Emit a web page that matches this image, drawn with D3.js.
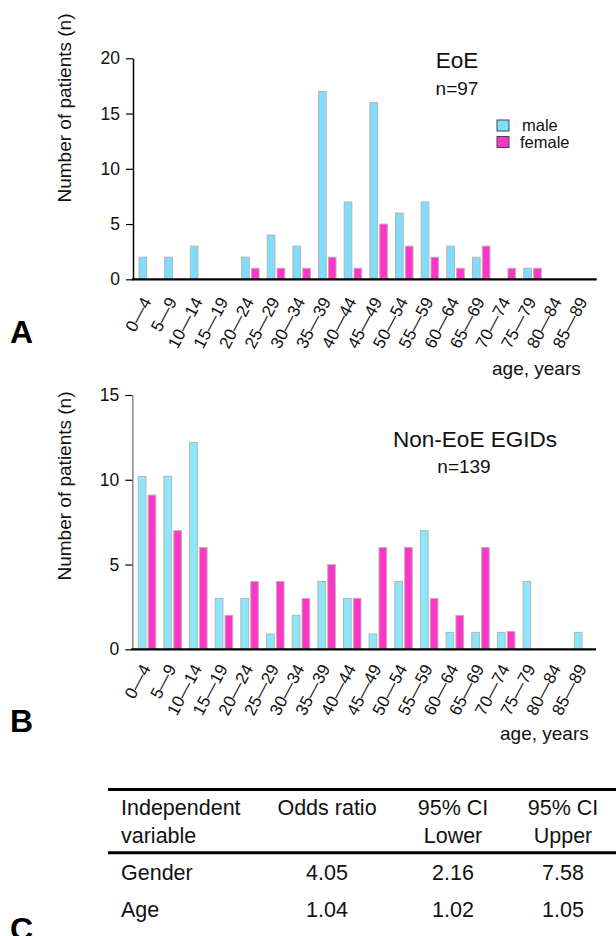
<!DOCTYPE html>
<html>
<head>
<meta charset="utf-8">
<script src="https://cdn.jsdelivr.net/npm/d3@7"></script>
<style>
  body { margin: 0; background: #fff; }
  svg { display: block; font-family: "Liberation Sans", Arial, sans-serif; }
</style>
</head>
<body>
<div id="canvas"></div>
<script>
// age bins shared by both panels
var ages = ['0—4','5—9','10—14','15—19','20—24','25—29','30—34','35—39','40—44',
            '45—49','50—54','55—59','60—64','65—69','70—74','75—79','80—84','85—89'];

// panel A: EoE
var eoeMale   = [2,2,3,0,2,4,3,17,7,16,6,7,3,2,0,1,0,0];
var eoeFemale = [0,0,0,0,1,1,1,2,1,5,3,2,1,3,1,1,0,0];
var eoeTicks  = [0,5,10,15,20];

// panel B: non-EoE EGIDs
var egidMale   = [10.2,10.2,12.2,3,3,0.9,2,4,3,0.9,4,7,1,1,1,4,0,1];
var egidFemale = [9.1,7,6,2,4,4,3,5,3,6,6,3,2,6,1.05,0,0,0];
var egidTicks  = [0,5,10,15];

var sexes = ['male','female'];

// panel C: table
var tableHead = [['Independent','variable'],['Odds ratio',''],['95% CI','Lower'],['95% CI','Upper']];
var tableVars = ['Gender','Age'];
var tableOR   = ['4.05','1.04'];
var tableLow  = ['2.16','1.02'];
var tableUp   = ['7.58','1.05'];

var W = 616, H = 936;
var svg = d3.select('#canvas').append('svg')
    .attr('width', W)
    .attr('height', H);

var femaleColor = '#ff35c9';

function drawPanel(p){
    var g = svg.append('g');

    var x = d3.scaleBand()
        .domain(ages)
        .range([p.left, p.left + 18*25.65]);
    var xSex = d3.scaleBand()
        .domain(sexes)
        .range([6, 23.5])
        .paddingInner(0.22);
    var y = d3.scaleLinear()
        .domain([0, p.max])
        .range([p.bottom, p.top]);

    var rows = ages.map(function(a, i){
        return {age: a, values: [{sex:'male', v:p.male[i]}, {sex:'female', v:p.female[i]}]};
    });

    // bars
    var groups = g.selectAll('.grp')
        .data(rows)
        .enter().append('g')
        .attr('transform', function(d){ return 'translate(' + x(d.age) + ',0)'; });

    groups.selectAll('rect')
        .data(function(d){ return d.values.filter(function(e){ return e.v > 0; }); })
        .enter().append('rect')
        .attr('x', function(d){ return xSex(d.sex); })
        .attr('y', function(d){ return y(d.v); })
        .attr('width', xSex.bandwidth())
        .attr('height', function(d){ return p.bottom - y(d.v); })
        .attr('fill', function(d){ return d.sex == 'male' ? p.maleColor : femaleColor; })
        .attr('stroke', '#b4b4b4')
        .attr('stroke-width', 1);

    // y axis
    var axisY = d3.axisLeft(y)
        .tickValues(p.ticks)
        .tickSize(7)
        .tickSizeOuter(0)
        .tickPadding(6)
        .tickFormat(d3.format('d'));
    var gy = g.append('g')
        .attr('transform', 'translate(' + p.left + ',0)')
        .call(axisY);
    gy.select('.domain').attr('stroke', p.yAxisColor).attr('stroke-width', 1.5);
    gy.selectAll('.tick line').attr('stroke', '#000').attr('stroke-width', 1.2);
    gy.selectAll('.tick text').attr('font-size', 17.5).attr('fill', '#111');

    // x axis with rotated labels
    var axisX = d3.axisBottom(x)
        .tickSize(0)
        .tickSizeOuter(0);
    var gx = g.append('g')
        .attr('transform', 'translate(0,' + p.bottom + ')')
        .call(axisX);
    gx.select('.domain').attr('stroke', '#000').attr('stroke-width', 2.3)
        .attr('d', 'M' + (p.left - 1) + ',0H' + (x.range()[1] + 2));
    gx.selectAll('.tick text')
        .attr('x', 0).attr('y', 0).attr('dy', 0)
        .attr('text-anchor', 'end')
        .attr('font-size', 17)
        .attr('fill', '#111')
        .attr('transform', 'translate(6,' + p.labelDy + ') rotate(-62)');

    // y title
    g.append('text')
        .attr('transform', 'translate(71,' + p.titleY + ') rotate(-90)')
        .attr('text-anchor', 'middle')
        .attr('font-size', 19)
        .attr('fill', '#111')
        .text('Number of patients (n)');

    g.append('text')
        .attr('x', p.ageX).attr('y', p.ageY)
        .attr('font-size', 19)
        .attr('fill', '#111')
        .text('age, years');

    g.append('text')
        .attr('x', p.nameX).attr('y', p.nameY)
        .attr('text-anchor', 'middle')
        .attr('font-size', 22.5)
        .attr('fill', '#111')
        .text(p.name);
    g.append('text')
        .attr('x', p.nX).attr('y', p.nY)
        .attr('text-anchor', 'middle')
        .attr('font-size', 19)
        .attr('fill', '#111')
        .text(p.n);

    g.append('text')
        .attr('x', 10).attr('y', p.letterY)
        .attr('font-size', 32)
        .attr('font-weight', 'bold')
        .text(p.letter);

    return g;
}

var gA = drawPanel({
    male: eoeMale, female: eoeFemale, ticks: eoeTicks, max: 20,
    left: 133, top: 58.3, bottom: 279.3, labelDy: 22,
    maleColor: '#80dcfb', yAxisColor: '#000',
    titleY: 108, ageX: 492, ageY: 375,
    name: 'EoE', nameX: 457, nameY: 68,
    n: 'n=97', nX: 457, nY: 95,
    letter: 'A', letterY: 343
});

// legend in panel A
var legend = gA.selectAll('.leg')
    .data(sexes)
    .enter().append('g')
    .attr('transform', function(d, i){ return 'translate(497,' + (120 + i*16.5) + ')'; });
legend.append('rect')
    .attr('width', 12).attr('height', 11)
    .attr('fill', function(d){ return d == 'male' ? '#80dcfb' : femaleColor; })
    .attr('stroke', '#444')
    .attr('stroke-width', 1);
legend.append('text')
    .attr('x', function(d){ return d == 'male' ? 25 : 23; })
    .attr('y', 11)
    .attr('font-size', 16.5)
    .attr('fill', '#111')
    .text(function(d){ return d; });

drawPanel({
    male: egidMale, female: egidFemale, ticks: egidTicks, max: 15,
    left: 132.3, top: 395, bottom: 649.3, labelDy: 19,
    maleColor: '#8be7f9', yAxisColor: '#8a8a8a',
    titleY: 486, ageX: 500, ageY: 740,
    name: 'Non-EoE EGIDs', nameX: 475, nameY: 446.7,
    n: 'n=139', nX: 464, nY: 472.7,
    letter: 'B', letterY: 732
});

// panel C: table
var tab = svg.append('g');
var colX = [121, 327, 453, 563];
var colAnchor = ['start','middle','middle','middle'];

tab.append('line')
    .attr('x1', 108).attr('x2', W)
    .attr('y1', 789.5).attr('y2', 789.5)
    .attr('stroke', '#000').attr('stroke-width', 2.8);
tab.append('line')
    .attr('x1', 108).attr('x2', W)
    .attr('y1', 852.7).attr('y2', 852.7)
    .attr('stroke', '#000').attr('stroke-width', 3);

tableHead.forEach(function(h, c){
    h.forEach(function(line, r){
        tab.append('text')
            .attr('x', colX[c]).attr('y', 815 + r*28.3)
            .attr('text-anchor', colAnchor[c])
            .attr('font-size', 21.5)
            .attr('fill', '#111')
            .text(line);
    });
});

var bodyCols = [tableVars, tableOR, tableLow, tableUp];
bodyCols.forEach(function(col, c){
    col.forEach(function(v, r){
        tab.append('text')
            .attr('x', colX[c]).attr('y', 880 + r*37)
            .attr('text-anchor', colAnchor[c])
            .attr('font-size', 21.5)
            .attr('fill', '#111')
            .text(v);
    });
});

tab.append('text')
    .attr('x', 10).attr('y', 940)
    .attr('font-size', 32)
    .attr('font-weight', 'bold')
    .text('C');
</script>
</body>
</html>
